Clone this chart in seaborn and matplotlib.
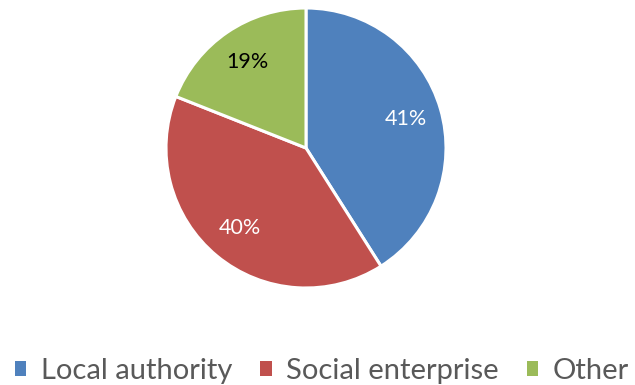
import matplotlib
matplotlib.use("Agg")
import matplotlib.pyplot as plt
import seaborn as sns
from matplotlib.patches import Patch

# Provider share
categories = ["Local authority", "Social enterprise", "Other"]
shares = [41, 40, 19]
colors = ["#4F81BD", "#C0504D", "#9BBB59"]
label_colors = ["white", "white", "black"]

sns.set_theme(style="white")
plt.rcParams["font.family"] = ["Lato", "DejaVu Sans"]

fig = plt.figure(figsize=(6.35, 3.85), dpi=100)
cx, cy, r = 306, 148, 140
ax = fig.add_axes([(cx - r) / 635, (385 - cy - r) / 385, 2 * r / 635, 2 * r / 385])

wedges, texts = ax.pie(
    shares,
    colors=colors,
    startangle=90,
    counterclock=False,
    labels=[f"{v}%" for v in shares],
    labeldistance=0.74,
    wedgeprops=dict(edgecolor="white", linewidth=2.2, clip_on=False),
    textprops=dict(fontsize=15.5, ha="center", va="center"),
)
for t, c in zip(texts, label_colors):
    t.set_color(c)
ax.set_xlim(-1.0, 1.0)
ax.set_ylim(-1.0, 1.0)
ax.set_aspect("equal")
ax.axis("off")

handles = [Patch(facecolor=c, edgecolor="none") for c in colors]
fig.legend(
    handles, categories,
    loc="center", bbox_to_anchor=(322 / 635, 1 - 371 / 385),
    ncol=3, frameon=False, fontsize=21,
    labelcolor="#595959",
    handlelength=0.4, handleheight=0.4, handletextpad=0.5,
    columnspacing=0.95, borderpad=0, borderaxespad=0,
)

fig.savefig("out.png", dpi=100, facecolor="white")
